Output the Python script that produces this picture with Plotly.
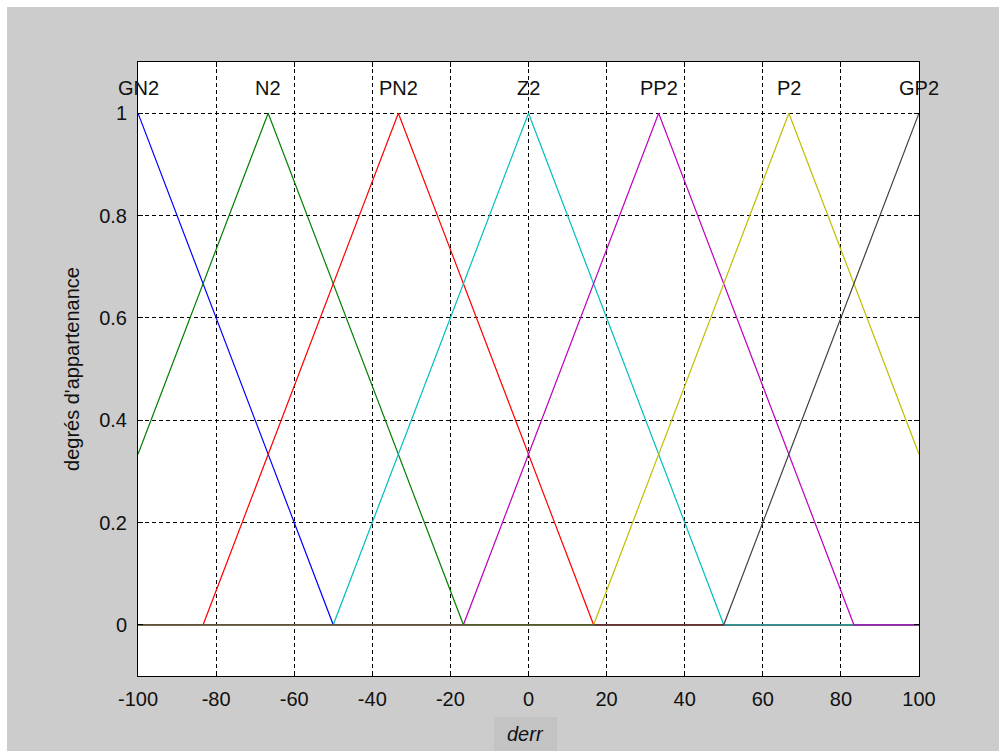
import plotly.graph_objects as go

# Membership functions (trimf parameters a, b, c)
mf_names = ["GN2", "N2", "PN2", "Z2", "PP2", "P2", "GP2"]
mf_a = [-150.0, -116.67, -83.33, -50.0, -16.67, 16.67, 50.0]
mf_b = [-100.0, -66.67, -33.33, 0.0, 33.33, 66.67, 100.0]
mf_c = [-50.0, -16.67, 16.67, 50.0, 83.33, 116.67, 150.0]
mf_colors = ["#0000ff", "#008000", "#ff0000", "#00bfbf", "#bf00bf", "#bfbf00", "#404040"]

x_min, x_max = -100, 100
x_ticks = [-100, -80, -60, -40, -20, 0, 20, 40, 60, 80, 100]
y_ticks = [0, 0.2, 0.4, 0.6, 0.8, 1]
y_tick_labels = ["0", "0.2", "0.4", "0.6", "0.8", "1"]
x_title = "derr"
y_title = "degrés d'appartenance"


def trimf(x, a, b, c):
    if x <= a or x >= c:
        return 0.0
    if x <= b:
        return (x - a) / (b - a)
    return (c - x) / (c - b)


W, H = 999, 753
ml, mr, mt, mb = 138, 80, 62, 77
pw, ph = W - ml - mr, H - mt - mb

FONT = "Liberation Sans"
FS = 20

fig = go.Figure()
for name, a, b, c, col in zip(mf_names, mf_a, mf_b, mf_c, mf_colors):
    pts = sorted(set([x_min, x_max] + [p for p in (a, b, c) if x_min <= p <= x_max]))
    ys = [trimf(p, a, b, c) if p != b else 1.0 for p in pts]
    fig.add_trace(go.Scatter(x=pts, y=ys, mode="lines", line=dict(color=col, width=1.2),
                             name=name, showlegend=False, hoverinfo="skip"))
    fig.add_annotation(x=b, y=1.05, text=name, showarrow=False, xref="x", yref="y",
                       font=dict(family=FONT, size=FS, color="#111111"),
                       xanchor="center", yanchor="middle")


def px_x(p):
    return (p - ml) / pw


def px_y(p):
    return (H - mb - p) / ph


shapes = []
# white strips at top, left, bottom of the page
shapes.append(dict(type="rect", xref="paper", yref="paper", x0=px_x(0), x1=px_x(W), y0=px_y(7), y1=px_y(0),
                   fillcolor="white", line=dict(width=0), layer="below"))
shapes.append(dict(type="rect", xref="paper", yref="paper", x0=px_x(0), x1=px_x(7), y0=px_y(H), y1=px_y(0),
                   fillcolor="white", line=dict(width=0), layer="below"))
shapes.append(dict(type="rect", xref="paper", yref="paper", x0=px_x(0), x1=px_x(W), y0=px_y(H), y1=px_y(751),
                   fillcolor="white", line=dict(width=0), layer="below"))
# darker box behind x-axis label
shapes.append(dict(type="rect", xref="paper", yref="paper", x0=px_x(494), x1=px_x(557), y0=px_y(751), y1=px_y(717),
                   fillcolor="#c3c3c3", line=dict(width=0), layer="below"))
fig.update_layout(shapes=shapes)

fig.add_annotation(x=px_x(525), y=px_y(734), xref="paper", yref="paper", text="<i>" + x_title + "</i>",
                   showarrow=False, font=dict(family=FONT, size=FS, color="#111111"),
                   xanchor="center", yanchor="middle")

axis_font = dict(family=FONT, size=FS, color="#111111")
fig.update_xaxes(range=[x_min, x_max], tickvals=x_ticks, ticktext=[str(t) for t in x_ticks],
                 showgrid=True, gridcolor="black", griddash="4px,3px", gridwidth=1,
                 showline=True, linecolor="black", linewidth=1, mirror="ticks",
                 ticks="inside", ticklen=5, tickcolor="black", zeroline=False,
                 tickfont=axis_font, ticklabelstandoff=5)
fig.update_yaxes(range=[-0.1, 1.1], tickvals=y_ticks, ticktext=y_tick_labels,
                 showgrid=True, gridcolor="black", griddash="4px,3px", gridwidth=1,
                 showline=True, linecolor="black", linewidth=1, mirror="ticks",
                 ticks="inside", ticklen=5, tickcolor="black", zeroline=False,
                 tickfont=axis_font, ticklabelstandoff=6,
                 title=dict(text=y_title, font=axis_font, standoff=14))

fig.update_layout(width=W, height=H, margin=dict(l=ml, r=mr, t=mt, b=mb),
                  paper_bgcolor="#cccccc", plot_bgcolor="white", showlegend=False)

fig.write_html("out.html")
